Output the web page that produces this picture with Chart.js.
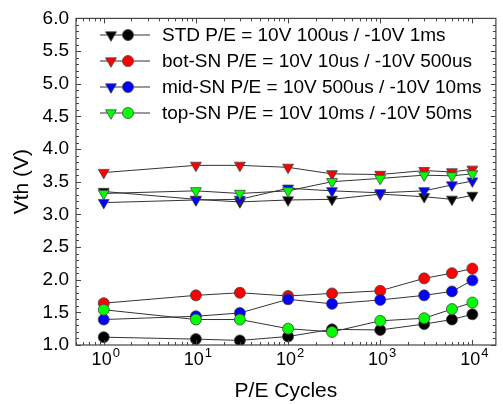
<!DOCTYPE html>
<html>
<head>
<meta charset="utf-8">
<script src="https://cdn.jsdelivr.net/npm/chart.js@4/dist/chart.umd.min.js"></script>
<style>
html,body{margin:0;padding:0;background:#fff;}
#wrap{width:503px;height:404px;}
</style>
</head>
<body>
<div id="wrap"><canvas id="c" width="503" height="404"></canvas></div>
<script>
// ---- data ----
const cycles = [1, 10, 30, 100, 300, 1000, 3000, 6000, 10000];
const xTickValues = [1, 10, 100, 1000, 10000];
const xTickBase = '10';
const xTickExponents = ['0', '1', '2', '3', '4'];
const seriesNames = [
  'STD P/E = 10V 100us / -10V 1ms',
  'bot-SN P/E = 10V 10us / -10V 500us',
  'mid-SN P/E = 10V 500us / -10V 10ms',
  'top-SN P/E = 10V 10ms / -10V 50ms'
];
const seriesColors = ['#000000', '#ff0000', '#0000ff', '#00ff00'];
const stdProgram = [3.35, 3.23, 3.19, 3.22, 3.23, 3.31, 3.27, 3.23, 3.29];
const stdErase   = [1.12, 1.09, 1.07, 1.13, 1.24, 1.23, 1.32, 1.39, 1.47];
const botProgram = [3.64, 3.75, 3.75, 3.72, 3.62, 3.61, 3.67, 3.65, 3.69];
const botErase   = [1.64, 1.76, 1.80, 1.75, 1.79, 1.83, 2.02, 2.10, 2.17];
const midProgram = [3.18, 3.22, 3.23, 3.40, 3.36, 3.33, 3.36, 3.45, 3.51];
const midErase   = [1.39, 1.44, 1.49, 1.70, 1.63, 1.69, 1.76, 1.82, 1.99];
const topProgram = [3.32, 3.36, 3.32, 3.36, 3.50, 3.55, 3.60, 3.59, 3.62];
const topErase   = [1.54, 1.39, 1.39, 1.25, 1.20, 1.37, 1.41, 1.55, 1.65];

const programSets = [stdProgram, botProgram, midProgram, topProgram];
const eraseSets = [stdErase, botErase, midErase, topErase];

const FONT = "'Liberation Sans', Arial, sans-serif";
const LINE = '#333333';

const datasets = [];
for (let i = 0; i < 4; i++) {
  const order = 4 - i;
  datasets.push({
    label: seriesNames[i] + ' (P)',
    data: cycles.map((c, k) => ({x: c, y: programSets[i][k]})),
    borderColor: LINE, borderWidth: 1,
    pointStyle: 'triangle', pointRotation: 180, pointRadius: 6.3,
    pointBackgroundColor: seriesColors[i], pointBorderColor: '#444', pointBorderWidth: 0.8,
    order: order
  });
  datasets.push({
    label: seriesNames[i] + ' (E)',
    data: cycles.map((c, k) => ({x: c, y: eraseSets[i][k]})),
    borderColor: LINE, borderWidth: 1,
    pointStyle: 'circle', pointRadius: 5.5,
    pointBackgroundColor: seriesColors[i], pointBorderColor: '#444', pointBorderWidth: 0.8,
    order: order
  });
}

const framePlugin = {
  id: 'frame',
  afterDatasetsDraw(chart) {
    const {ctx, chartArea: a, scales} = chart;
    const xs = scales.x, ys = scales.y;
    ctx.save();
    ctx.strokeStyle = '#444';
    ctx.lineWidth = 1.2;
    ctx.strokeRect(a.left, a.top, a.right - a.left, a.bottom - a.top);
    ctx.lineWidth = 1;
    ctx.beginPath();
    for (let v = 10; v <= 60; v++) {
      const y = Math.round(ys.getPixelForValue(v / 10)) + 0.5;
      const len = (v % 5 === 0) ? 5 : 3;
      ctx.moveTo(a.left, y); ctx.lineTo(a.left + len, y);
      ctx.moveTo(a.right, y); ctx.lineTo(a.right - len, y);
    }
    for (let e = -1; e <= 4; e++) {
      for (let m = 1; m <= 9; m++) {
        const v = m * Math.pow(10, e);
        if (v < xs.min || v > xs.max) continue;
        const x = Math.round(xs.getPixelForValue(v)) + 0.5;
        const len = (m === 1) ? 5 : 3;
        ctx.moveTo(x, a.bottom); ctx.lineTo(x, a.bottom - len);
        ctx.moveTo(x, a.top); ctx.lineTo(x, a.top + len);
      }
    }
    ctx.stroke();
    // x tick labels with superscript exponents
    ctx.fillStyle = '#000';
    ctx.textBaseline = 'alphabetic';
    ctx.textAlign = 'left';
    xTickValues.forEach((v, i) => {
      const x = xs.getPixelForValue(v);
      ctx.font = '18px ' + FONT;
      const wb = ctx.measureText(xTickBase).width;
      ctx.font = '13px ' + FONT;
      const we = ctx.measureText(xTickExponents[i]).width;
      const start = x + 2 - (wb + we + 1) / 2;
      ctx.font = '18px ' + FONT;
      ctx.fillText(xTickBase, start, a.bottom + 20);
      ctx.font = '13px ' + FONT;
      ctx.fillText(xTickExponents[i], start + wb + 1, a.bottom + 12);
    });
    ctx.restore();
  }
};

const legendPlugin = {
  id: 'customLegend',
  afterDraw(chart) {
    const ctx = chart.ctx;
    ctx.save();
    for (let i = 0; i < 4; i++) {
      const y = 35 + i * 26;
      ctx.strokeStyle = LINE; ctx.lineWidth = 1;
      ctx.beginPath(); ctx.moveTo(100, y); ctx.lineTo(150, y); ctx.stroke();
      const r = 6.3, tx = 111;
      ctx.beginPath();
      ctx.moveTo(tx, y + r);
      ctx.lineTo(tx - r * Math.sin(Math.PI / 3), y - r / 2);
      ctx.lineTo(tx + r * Math.sin(Math.PI / 3), y - r / 2);
      ctx.closePath();
      ctx.fillStyle = seriesColors[i]; ctx.fill();
      ctx.strokeStyle = '#444'; ctx.lineWidth = 0.8; ctx.stroke();
      ctx.beginPath(); ctx.arc(128, y, 5.5, 0, Math.PI * 2);
      ctx.fill(); ctx.stroke();
      ctx.fillStyle = '#000';
      ctx.font = '19px ' + FONT;
      ctx.textBaseline = 'middle';
      ctx.textAlign = 'left';
      ctx.fillText(seriesNames[i], 162, y + 1);
    }
    ctx.restore();
  }
};

new Chart(document.getElementById('c'), {
  type: 'line',
  data: {datasets},
  options: {
    responsive: false,
    devicePixelRatio: 1,
    animation: false,
    events: [],
    layout: {padding: {top: 15, right: 1, left: 0, bottom: 0}},
    plugins: {legend: {display: false}, tooltip: {enabled: false}},
    scales: {
      x: {
        type: 'logarithmic',
        min: 0.5, max: 18000,
        afterBuildTicks(scale) { scale.ticks = xTickValues.map(v => ({value: v})); },
        afterFit(scale) { scale.height = 59; },
        grid: {display: false, drawTicks: false},
        border: {display: false},
        ticks: {
          autoSkip: false, maxRotation: 0, padding: 4,
          color: 'rgba(0,0,0,0)', font: {family: FONT, size: 18},
          callback(v) { const i = xTickValues.indexOf(v); return i >= 0 ? xTickBase + xTickExponents[i] : ''; }
        },
        title: {display: true, text: 'P/E Cycles', color: '#000', font: {family: FONT, size: 21}, padding: {top: 6, bottom: 0}}
      },
      y: {
        min: 1, max: 6,
        afterFit(scale) { scale.width = 76; },
        grid: {display: false, drawTicks: false},
        border: {display: false},
        ticks: {
          stepSize: 0.5, padding: 7,
          color: '#000', font: {family: FONT, size: 19},
          callback(v) { return Number(v).toFixed(1); }
        },
        title: {display: true, text: 'Vth (V)', color: '#000', font: {family: FONT, size: 21}, padding: {top: 10, bottom: 0}}
      }
    }
  },
  plugins: [framePlugin, legendPlugin]
});
</script>
</body>
</html>
